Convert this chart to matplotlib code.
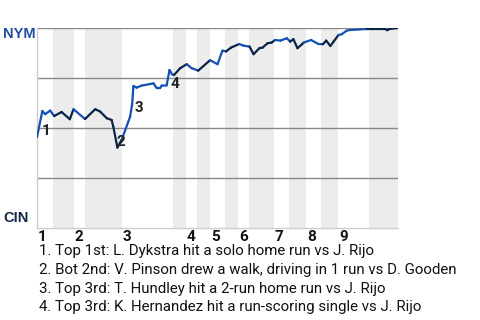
import numpy as np
import matplotlib
matplotlib.use("Agg")
import matplotlib.pyplot as plt
from matplotlib.collections import LineCollection
from matplotlib.transforms import blended_transform_factory

# win probability for NYM (%) by plate appearance
pa = [0.0, 1.3, 2.0, 3.2, 4.2, 6.0, 8.0, 8.9, 11.7, 14.2, 15.4, 17.0, 18.2, 18.6,
      19.6, 20.7, 22.7, 23.2, 23.5, 24.3, 25.5, 28.4, 29.2, 30.0, 30.4, 31.6,
      32.3, 32.9, 33.4, 34.9, 36.5, 37.7, 39.3, 42.2, 44.0, 45.2, 46.1, 47.3,
      49.3, 50.3, 51.8, 52.8, 54.2, 55.0, 56.2, 57.2, 58.0, 59.4, 60.9, 61.7,
      62.5, 63.5, 64.6, 65.0, 66.8, 68.6, 69.7, 70.5, 71.5, 72.3, 73.5, 74.3,
      75.5, 76.3, 80.4, 84.9, 85.4, 85.9, 88.0]
wp = [45.4, 58.5, 56.9, 58.7, 56.0, 58.0, 54.4, 59.4, 54.5, 59.4, 58.2, 54.9, 54.0, 50.7,
      40.2, 44.4, 55.7, 62.0, 71.0, 70.2, 71.2, 72.3, 69.9, 69.9, 71.2, 71.3,
      79.0, 76.9, 76.5, 79.9, 81.9, 79.9, 78.7, 83.9, 81.9, 88.7, 88.3, 90.2,
      92.0, 91.2, 90.7, 86.9, 89.9, 90.2, 92.4, 92.7, 94.0, 93.7, 94.9, 93.2,
      94.4, 89.9, 91.9, 92.7, 94.0, 92.0, 91.9, 93.7, 91.0, 93.2, 96.5, 96.9,
      98.7, 99.0, 99.5, 99.5, 98.9, 99.5, 100.0]

# half-inning boundaries (plate appearance index)
top_start = [0.0, 9.0, 20.7, 36.3, 42.2, 49.0, 57.8, 65.6, 73.4]
bot_start = [3.9, 11.7, 33.2, 39.0, 45.9, 51.7, 61.5, 69.3, 81.0]
game_end = 88.0
innings = ["1", "2", "3", "4", "5", "6", "7", "8", "9"]

# key events
ev_x = [2.3, 20.5, 24.9, 33.5]
ev_y = [48.5, 43.0, 60.0, 72.0]
ev_labels = ["1", "2", "3", "4"]
notes = [
    "1. Top 1st: L. Dykstra hit a solo home run vs J. Rijo",
    "2. Bot 2nd: V. Pinson drew a walk, driving in 1 run vs D. Gooden",
    "3. Top 3rd: T. Hundley hit a 2-run home run vs J. Rijo",
    "4. Top 3rd: K. Hernandez hit a run-scoring single vs J. Rijo",
]

blue = "#1450b4"
navy = "#0b2346"

plt.rcParams['font.family'] = ['Roboto', 'DejaVu Sans']
fig = plt.figure(figsize=(4.8, 3.2), dpi=100)
ax = fig.add_axes([37 / 480, 92 / 320, 361 / 480, 200 / 320])

ends = top_start[1:] + [game_end]
for b, e in zip(bot_start, ends):
    ax.axvspan(b, e, color="#ececec", lw=0, zorder=0)

for g in [25, 50, 75, 100]:
    ax.axhline(g, color="#888888", lw=1, zorder=1)

# colour each segment by the half inning it belongs to
pts = np.column_stack([pa, wp])
segs = np.stack([pts[:-1], pts[1:]], axis=1)
cols = []
for i in range(len(pa) - 1):
    mid = (pa[i] + pa[i + 1]) / 2
    in_bot = any(b <= mid < e for b, e in zip(bot_start, ends))
    cols.append(navy if in_bot else blue)
ax.add_collection(LineCollection(segs, colors=cols, linewidths=1.6, zorder=3,
                                 capstyle="round", joinstyle="round"))

for x, y, s in zip(ev_x, ev_y, ev_labels):
    ax.text(x, y, s, ha="center", va="center", fontsize=11, fontweight="bold",
            color="#222222", zorder=4)

tr = blended_transform_factory(ax.transData, ax.transAxes)
for x, s in zip(top_start, innings):
    ax.text(x + 0.2, -0.045, s, transform=tr, ha="left", va="center",
            fontsize=11, fontweight="bold", color="#111111", clip_on=False)

ax.set_xlim(0, game_end)
ax.set_ylim(0, 100)
ax.set_xticks([])
ax.set_yticks([])
for side in ["top", "right"]:
    ax.spines[side].set_visible(False)
for side in ["left", "bottom"]:
    ax.spines[side].set_color("#cccccc")
    ax.spines[side].set_linewidth(1)

fig.text(3 / 480, 1 - 34 / 320, "NYM", ha="left", va="center", fontsize=10.5,
         fontweight="bold", color="#1f4fa3", family="Liberation Sans")
fig.text(3 / 480, 1 - 218.5 / 320, "CIN", ha="left", va="center", fontsize=10.5,
         fontweight="bold", color="#13284a", family="Liberation Sans")

for i, n in enumerate(notes):
    fig.text(39 / 480, 1 - (251 + i * 18.8) / 320, n, ha="left", va="center",
             fontsize=10.8, color="#111111")

fig.savefig("out.png", dpi=100)
